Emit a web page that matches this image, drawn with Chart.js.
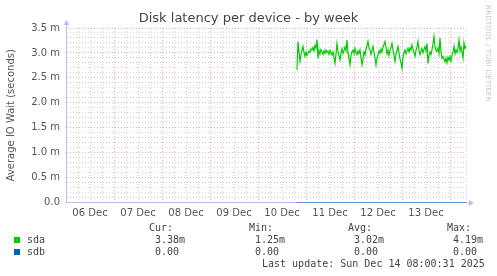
<!DOCTYPE html>
<html>
<head>
<meta charset="utf-8">
<script src="https://cdn.jsdelivr.net/npm/chart.js@4/dist/chart.umd.min.js"></script>
<style>
body { margin: 0; background: #fff; }
#wrap { position: relative; width: 497px; height: 276px; }
canvas { position: absolute; left: 0; top: 0; }
#title { position: absolute; left: 0; top: 10px; width: 497px; text-align: center; font: 13px "DejaVu Sans", sans-serif; color: #444; }
.t { position: absolute; font: 10px "DejaVu Sans Mono", monospace; color: #444; white-space: pre; line-height: 12px; }
.sw { position: absolute; width: 6px; height: 6px; }
#rrd { position: absolute; left: 484px; top: 5px; writing-mode: vertical-rl; font: 7px "DejaVu Sans", sans-serif; color: #c4c4c4; letter-spacing: 0.3px; }
</style>
</head>
<body>
<div id="wrap">
  <canvas id="latency" width="497" height="276"></canvas>
  <div id="title">Disk latency per device - by week</div>
  <div id="rrd">RRDTOOL / TOBI OETIKER</div>
  <div class="t" style="left:149px;top:222px">Cur:</div>
  <div class="t" style="left:249px;top:222px">Min:</div>
  <div class="t" style="left:348px;top:222px">Avg:</div>
  <div class="t" style="left:447px;top:222px">Max:</div>
  <div class="sw" style="left:14px;top:237px;background:#00cc00"></div>
  <div class="t" style="left:27px;top:234px">sda</div>
  <div class="t" style="left:155px;top:234px">3.38m</div>
  <div class="t" style="left:255px;top:234px">1.25m</div>
  <div class="t" style="left:354px;top:234px">3.02m</div>
  <div class="t" style="left:453px;top:234px">4.19m</div>
  <div class="sw" style="left:14px;top:249px;background:#0066b3"></div>
  <div class="t" style="left:27px;top:246px">sdb</div>
  <div class="t" style="left:155px;top:246px">0.00</div>
  <div class="t" style="left:255px;top:246px">0.00</div>
  <div class="t" style="left:354px;top:246px">0.00</div>
  <div class="t" style="left:453px;top:246px">0.00</div>
  <div class="t" style="left:262px;top:258px">Last update: Sun Dec 14 08:00:31 2025</div>
</div>
<script>
// hours since 06 Dec 00:00, one sample every 30 min
var startHour = 115.5
var stepHours = 0.5

// milliseconds
var sda = [
  2.66, 3.23, 3.02, 2.83, 2.97, 3.05, 3.13, 3.01, 2.93, 3.02,
  2.95, 2.99, 3.04, 3.01, 3.08, 3.06, 3.11, 3.04, 3.15, 3.10,
  3.27, 2.89, 3.05, 2.98, 3.07, 3.03, 2.97, 3.04, 2.99, 3.06,
  3.01, 3.03, 2.97, 3.05, 3.00, 2.96, 3.02, 2.91, 2.79, 2.98,
  3.19, 3.02, 2.94, 2.86, 3.00, 3.08, 2.99, 3.05, 3.12, 3.04,
  3.26, 3.01, 2.88, 2.76, 2.95, 3.03, 3.06, 2.98, 3.09, 3.01,
  2.96, 3.04, 2.99, 3.06, 2.90, 2.76, 2.88, 3.02, 2.96, 3.08,
  3.14, 3.23, 3.10, 3.06, 2.97, 3.05, 3.13, 3.02, 2.90, 2.76,
  2.89, 2.96, 3.04, 2.99, 3.08, 3.02, 3.12, 3.17, 3.23, 3.11,
  2.98, 3.06, 2.95, 3.04, 3.11, 3.19, 3.07, 2.95, 2.83, 2.97,
  3.05, 3.13, 3.00, 2.88, 2.80, 2.69, 2.92, 3.01, 3.06, 2.98,
  3.04, 3.09, 3.02, 3.10, 3.06, 3.16, 3.08, 3.01, 2.93, 3.05,
  3.12, 3.23, 3.04, 2.97, 3.05, 3.09, 3.00, 3.07, 3.13, 3.04,
  3.19, 2.79, 2.95, 3.02, 2.97, 3.06, 3.18, 3.33, 3.12, 3.05,
  3.03, 3.10, 2.99, 3.30, 3.02, 2.89, 2.93, 2.88, 2.82, 2.90,
  2.80, 2.91, 2.85, 2.93, 2.84, 2.95, 3.02, 3.13, 2.98, 3.06,
  3.01, 3.10, 3.26, 3.04, 3.12, 3.02, 2.90, 3.20, 3.09, 3.14
]
var sdb = [
  0,0,0,0,0,0,0,0,0,0,0,0,0,0,0,0,0,0,0,0,
  0,0,0,0,0,0,0,0,0,0,0,0,0,0,0,0,0,0,0,0,
  0,0,0,0,0,0,0,0,0,0,0,0,0,0,0,0,0,0,0,0,
  0,0,0,0,0,0,0,0,0,0,0,0,0,0,0,0,0,0,0,0,
  0,0,0,0,0,0,0,0,0,0,0,0,0,0,0,0,0,0,0,0,
  0,0,0,0,0,0,0,0,0,0,0,0,0,0,0,0,0,0,0,0,
  0,0,0,0,0,0,0,0,0,0,0,0,0,0,0,0,0,0,0,0,
  0,0,0,0,0,0,0,0,0,0,0,0,0,0,0,0,0,0,0,0,
  0,0,0,0,0,0,0,0,0,0
]
var dayLabels = ['06 Dec', '07 Dec', '08 Dec', '09 Dec', '10 Dec', '11 Dec', '12 Dec', '13 Dec']

var majorGrid = 'rgba(230, 120, 120, 0.6)'
var minorGrid = 'rgba(175, 175, 175, 0.55)'
var axisColor = '#b8c0f0'

function points(values) {
  return values.map((v, i) => ({ x: startHour + i * stepHours, y: v }))
}

// little arrow heads on the axes, like rrdtool
var axisArrows = {
  id: 'axisArrows',
  afterDraw(chart) {
    var a = chart.chartArea
    var ctx = chart.ctx
    ctx.save()
    ctx.strokeStyle = axisColor
    ctx.fillStyle = axisColor
    ctx.lineWidth = 1
    ctx.beginPath()
    ctx.moveTo(a.left + 0.5, a.top)
    ctx.lineTo(a.left + 0.5, a.top - 4)
    ctx.moveTo(a.right, a.bottom + 0.5)
    ctx.lineTo(a.right + 4, a.bottom + 0.5)
    ctx.stroke()
    ctx.beginPath()
    ctx.moveTo(a.left - 2.5, a.top - 3)
    ctx.lineTo(a.left + 3.5, a.top - 3)
    ctx.lineTo(a.left + 0.5, a.top - 8)
    ctx.fill()
    ctx.beginPath()
    ctx.moveTo(a.right + 3, a.bottom - 2.5)
    ctx.lineTo(a.right + 3, a.bottom + 3.5)
    ctx.lineTo(a.right + 8, a.bottom + 0.5)
    ctx.fill()
    ctx.restore()
  }
}

window.onload = function() {
  var ctx = document.getElementById('latency').getContext('2d')
  new Chart(ctx, {
    type: 'line',
    data: {
      datasets: [{
        label: 'sda',
        data: points(sda),
        borderColor: '#00cc00',
        borderWidth: 1.2,
        pointRadius: 0,
        tension: 0
      }, {
        label: 'sdb',
        data: points(sdb),
        borderColor: '#0066b3',
        borderWidth: 1,
        pointRadius: 0,
        tension: 0
      }]
    },
    options: {
      responsive: false,
      animation: false,
      layout: { padding: { left: 3, right: 31, top: 28, bottom: 0 } },
      plugins: {
        legend: { display: false },
        tooltip: { enabled: false },
        title: { display: false }
      },
      scales: {
        x: {
          type: 'linear',
          min: 0,
          max: 200,
          afterFit: s => { s.height = 73.5 },
          grid: {
            drawTicks: false,
            color: c => (c.tick && c.tick.value % 24 === 0) ? majorGrid : minorGrid
          },
          border: { color: axisColor, dash: [1, 2] },
          ticks: {
            stepSize: 6,
            autoSkip: false,
            maxRotation: 0,
            padding: 5,
            color: '#555',
            font: { family: 'DejaVu Sans', size: 10 },
            callback: v => (v % 24 === 12) ? dayLabels[(v - 12) / 24] : ''
          }
        },
        y: {
          min: 0,
          max: 3.5,
          afterFit: s => { s.width = 63 },
          grid: {
            drawTicks: false,
            color: c => (c.tick && Math.round(c.tick.value * 10) % 5 === 0) ? majorGrid : minorGrid
          },
          border: { color: axisColor, dash: [1, 2] },
          title: {
            display: true,
            text: 'Average IO Wait (seconds)',
            color: '#555',
            font: { family: 'DejaVu Sans', size: 10 },
            padding: { top: 2, bottom: 0 }
          },
          ticks: {
            stepSize: 0.1,
            autoSkip: false,
            padding: 6,
            color: '#555',
            font: { family: 'DejaVu Sans', size: 10 },
            callback: v => {
              var t = Math.round(v * 10)
              if (t % 5 !== 0) return ''
              return t === 0 ? '0.0' : (t / 10).toFixed(1) + ' m'
            }
          }
        }
      }
    },
    plugins: [axisArrows]
  })
}
</script>
</body>
</html>
